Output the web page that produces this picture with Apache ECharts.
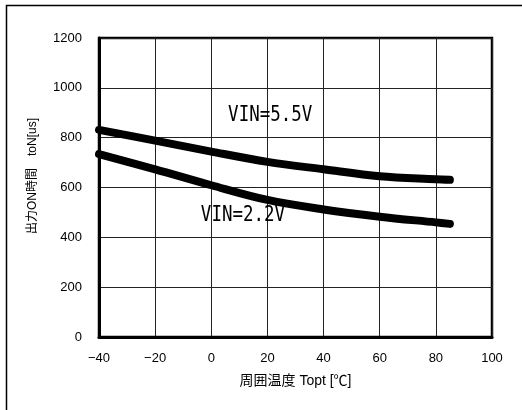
<!DOCTYPE html>
<html>
<head>
<meta charset="utf-8">
<script src="https://cdn.jsdelivr.net/npm/echarts@6/dist/echarts.min.js"></script>
<style>html,body{margin:0;padding:0;background:#fff}#c{width:522px;height:410px}</style>
</head>
<body>
<div id="c"></div>
<script>
const temps = [-40, -20, 0, 20, 40, 60, 80, 85];
const ton55 = [831, 788, 744, 703, 673, 645, 633, 631];
const ton22 = [734, 673, 609, 550, 512, 483, 460, 454];
const xTicks = [-40, -20, 0, 20, 40, 60, 80, 100];
const yTicks = [0, 200, 400, 600, 800, 1000, 1200];
const labelTexts = ['VIN=5.5V', 'VIN=2.2V'];
const labelX = [21, 11.3];
const labelY = [891, 488];

const font = "'Liberation Sans', 'Noto Sans CJK JP', sans-serif";
const chart = echarts.init(document.getElementById('c'), null, {renderer: 'canvas'});
const pair = (xs, ys) => xs.map((x, i) => [x, ys[i]]);
const lineStyle = {color: '#000', width: 8, cap: 'round', join: 'round'};

chart.setOption({
  animation: false,
  backgroundColor: '#fff',
  grid: {left: 99, top: 38, right: 30, bottom: 73, show: true, borderColor: '#000', borderWidth: 2.5, backgroundColor: 'transparent'},
  xAxis: {
    type: 'value', min: xTicks[0], max: xTicks[xTicks.length - 1], interval: 20,
    axisLine: {show: true, onZero: false, lineStyle: {color: '#000', width: 3}},
    axisTick: {show: false},
    splitLine: {show: true, lineStyle: {color: '#222', width: 1}},
    axisLabel: {color: '#000', fontSize: 13, fontFamily: font, margin: 15,
      formatter: v => String(v).replace('-', '\u2212')},
    name: '周囲温度 Topt [℃]', nameLocation: 'middle', nameGap: 37,
    nameTextStyle: {color: '#000', fontSize: 14, fontFamily: font}
  },
  yAxis: {
    type: 'value', min: yTicks[0], max: yTicks[yTicks.length - 1], interval: 200,
    axisLine: {show: true, onZero: false, lineStyle: {color: '#000', width: 3}},
    axisTick: {show: false},
    splitLine: {show: true, lineStyle: {color: '#222', width: 1}},
    axisLabel: {color: '#000', fontSize: 13, fontFamily: font, margin: 17, formatter: v => String(v)}
  },
  series: [
    {type: 'line', data: pair(temps, ton55), smooth: 0.35, showSymbol: false, symbol: 'none', lineStyle: lineStyle, z: 5},
    {type: 'line', data: pair(temps, ton22), smooth: 0.35, showSymbol: false, symbol: 'none', lineStyle: lineStyle, z: 5}
  ]
});

const graphics = [
  {type: 'rect', shape: {x: 6.5, y: 5.5, width: 540, height: 440}, style: {fill: 'none', stroke: '#000', lineWidth: 1.5}, silent: true, z: 100},
  {type: 'text', x: 33, y: 176, rotation: Math.PI / 2,
   style: {text: '出力ON時間\u3000toN[us]', fill: '#000', font: "12px 'Liberation Sans', 'Noto Sans CJK JP', sans-serif", align: 'center', verticalAlign: 'middle'}, z: 100}
];
labelTexts.forEach((t, i) => {
  const p = chart.convertToPixel({gridIndex: 0}, [labelX[i], labelY[i]]);
  graphics.push({type: 'text', x: p[0], y: p[1], scaleY: 1.25,
    style: {text: t, fill: '#000', font: "17.5px 'DejaVu Sans Mono', monospace", align: 'center', verticalAlign: 'middle'}, z: 100});
});
chart.setOption({graphic: graphics});
</script>
</body>
</html>
